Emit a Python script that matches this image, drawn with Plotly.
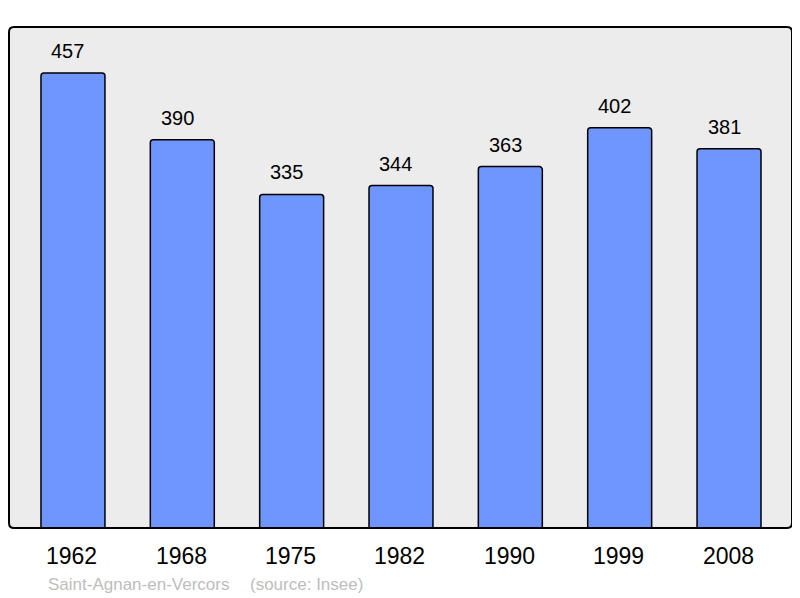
import plotly.graph_objects as go

years = ["1962", "1968", "1975", "1982", "1990", "1999", "2008"]
population = [457, 390, 335, 344, 363, 402, 381]
commune = "Saint-Agnan-en-Vercors"
source = "(source: Insee)"

xs = list(range(len(years)))
FONT = "Liberation Sans, Arial, sans-serif"

fig = go.Figure()
fig.add_trace(go.Bar(
    x=xs, y=population, width=0.585,
    marker=dict(color="#6f96ff", line=dict(color="#000000", width=1.5), cornerradius=3),
    hoverinfo="skip",
))

annotations = []
for x, y, v in zip(xs, population, population):
    annotations.append(dict(x=x, y=y, xref="x", yref="y", text=str(v), showarrow=False,
                            yanchor="middle", yshift=22, xshift=-5,
                            font=dict(family=FONT, size=20, color="#000")))
for x, yr in zip(xs, years):
    annotations.append(dict(x=x, y=0, xref="x", yref="y", text=yr, showarrow=False,
                            yanchor="middle", yshift=-28, xshift=-1,
                            font=dict(family=FONT, size=23, color="#000")))
annotations.append(dict(x=(46 - 9) / 783, y=0, xref="paper", yref="paper", text=commune, showarrow=False,
                        xanchor="left", yanchor="middle", yshift=-56, font=dict(family=FONT, size=17, color="#bdbdbd")))
annotations.append(dict(x=(248 - 9) / 783, y=0, xref="paper", yref="paper", text=source, showarrow=False,
                        xanchor="left", yanchor="middle", yshift=-56, font=dict(family=FONT, size=17, color="#bdbdbd")))

rx, ry = 5 / 783, 5 / 501
path = (f"M {rx},0 L {1-rx},0 Q 1,0 1,{ry} L 1,{1-ry} Q 1,1 {1-rx},1 "
        f"L {rx},1 Q 0,1 0,{1-ry} L 0,{ry} Q 0,0 {rx},0 Z")

# page body has an 8px default margin, so the figure is sized to fit the window
fig.update_layout(
    width=792, height=590,
    margin=dict(l=1, r=8, t=19, b=70),
    paper_bgcolor="#ffffff",
    plot_bgcolor="#ececec",
    showlegend=False,
    xaxis=dict(range=[-0.585, 6.576], showticklabels=False, showgrid=False, zeroline=False, ticks=""),
    yaxis=dict(range=[0, 503.2], showticklabels=False, showgrid=False, zeroline=False, ticks=""),
    annotations=annotations,
    shapes=[dict(type="path", path=path, xref="paper", yref="paper",
                 line=dict(color="#000000", width=2), layer="above")],
)

fig.write_html("out.html")
